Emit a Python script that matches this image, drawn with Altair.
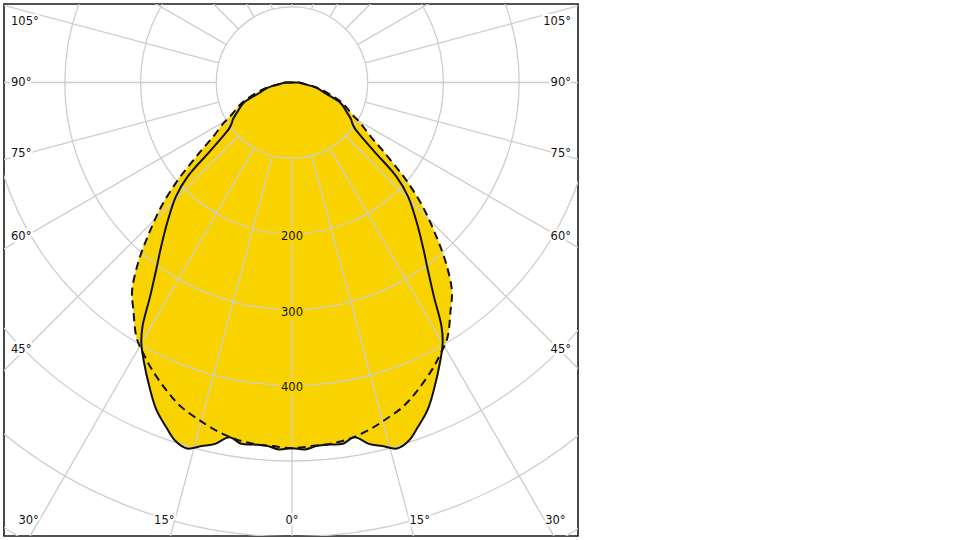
import math
import altair as alt
import pandas as pd

# ---- data (cd per angle, half plane, mirrored) ----
solid_angles = [0, 2, 4, 6, 8, 10, 12, 14, 16, 18, 20, 22.5, 25, 28, 30, 31.5, 33.5, 36, 38.5,
                42, 45.5, 48, 50, 52.5, 54, 56, 58, 62.5, 67, 72, 77.5, 83, 90, 100, 180]
solid_cd = [483, 485, 481, 481, 482, 476, 488, 495, 503, 498, 485, 468, 445, 417, 398, 378, 340, 305, 278,
            245, 215, 185, 142, 112, 102, 96, 92, 80, 70, 46, 34, 16, 8, 0, 0]
dashed_angles = [0, 3, 6, 9, 12.5, 15.5, 18.8, 22, 26, 28.6, 31.3, 34.8, 37.5, 40.5, 43.2, 46.5,
                 49.5, 51.3, 53.3, 55.4, 59.5, 62, 66.5, 70, 76, 80, 85, 90, 100, 180]
dashed_cd = [483, 481, 480, 477, 470, 462, 453, 440, 422, 409, 395, 367, 347, 313, 278, 238,
             198, 172, 148, 127, 104, 90, 76, 63, 41, 28, 14, 8, 0, 0]

ring_values = [100, 200, 300, 400, 500, 600, 700]
spoke_angles = list(range(0, 360, 15))
value_labels = [200, 300, 400]
side_label_angles = [45, 60, 75, 90, 105]
bottom_label_angles = [0, 15, 30]

# ---- layout constants (pixels) ----
W, H = 574, 532
PX = 0.757            # pixels per cd
CX, CY = 288, 78.5    # pole position inside the view
YELLOW = "#F9D300"
GRID = "#cdcdcd"
FONT = "DejaVu Sans"

xscale = alt.Scale(domain=[-CX / PX, (W - CX) / PX], nice=False, zero=False)
yscale = alt.Scale(domain=[-(H - CY) / PX, CY / PX], nice=False, zero=False)


def curve_frame(angles, values):
    g = [-a for a in reversed(angles) if a > 0] + list(angles)
    v = [c for a, c in zip(reversed(angles), reversed(values)) if a > 0] + list(values)
    return pd.DataFrame({"g": g, "cd": v, "i": range(len(g))})


solid_df = curve_frame(solid_angles, solid_cd)
dashed_df = curve_frame(dashed_angles, dashed_cd)


def polar(chart):
    return chart.transform_calculate(
        px="datum.cd*sin(datum.g*PI/180)",
        py="-datum.cd*cos(datum.g*PI/180)",
    )


def enc_xy(ch):
    return ch.encode(
        x=alt.X("px:Q", scale=xscale, axis=None),
        y=alt.Y("py:Q", scale=yscale, axis=None),
        order=alt.Order("i:Q"),
    )


INTERP = "catmull-rom"
fill_d = enc_xy(polar(alt.Chart(dashed_df)).mark_line(fill=YELLOW, stroke=YELLOW, strokeWidth=0.5,
                                                      interpolate=INTERP))
fill_s = enc_xy(polar(alt.Chart(solid_df)).mark_line(fill=YELLOW, stroke=YELLOW, strokeWidth=0.5,
                                                     interpolate=INTERP))

rings = alt.Chart(pd.DataFrame({"r": ring_values})).mark_arc(
    theta=0, theta2=2 * math.pi, fillOpacity=0, stroke=GRID, strokeWidth=1.3, clip=True
).encode(
    x=alt.X(datum=0, type="quantitative", scale=xscale, axis=None),
    y=alt.Y(datum=0, type="quantitative", scale=yscale, axis=None),
    radius=alt.Radius("r:Q", stack=False,
                      scale=alt.Scale(type="linear", domain=[0, 700], range=[0, 700 * PX])),
)

spokes = alt.Chart(pd.DataFrame({"g": spoke_angles})).transform_calculate(
    x1="100*sin(datum.g*PI/180)", y1="-100*cos(datum.g*PI/180)",
    x2="900*sin(datum.g*PI/180)", y2="-900*cos(datum.g*PI/180)",
).mark_rule(stroke=GRID, strokeWidth=1.3, clip=True).encode(
    x=alt.X("x1:Q", scale=xscale, axis=None),
    y=alt.Y("y1:Q", scale=yscale, axis=None),
    x2="x2:Q", y2="y2:Q",
)

line_d = enc_xy(polar(alt.Chart(dashed_df)).mark_line(color="#111111", strokeWidth=2, strokeDash=[8, 5],
                                                      interpolate=INTERP))
line_s = enc_xy(polar(alt.Chart(solid_df)).mark_line(color="#111111", strokeWidth=2, interpolate=INTERP))


def text_pair(chart, halo, **kw):
    h = chart.mark_text(font=FONT, fontSize=11.5, baseline="middle", stroke=halo, strokeWidth=5,
                        strokeJoin="round", fill=halo, **kw)
    t = chart.mark_text(font=FONT, fontSize=11.5, baseline="middle", color="#111111", **kw)
    return [h, t]


vals = alt.Chart(pd.DataFrame({"v": value_labels})).transform_calculate(
    lx="0", ly="-datum.v", txt="datum.v + ''"
).encode(
    x=alt.X("lx:Q", scale=xscale, axis=None),
    y=alt.Y("ly:Q", scale=yscale, axis=None),
    text="txt:N",
)
val_layers = text_pair(vals, YELLOW, align="center", dy=3)

LR = 267 / PX
YTOP = (82.5 - 22) / PX


def side_chart(sign):
    xx = (11 - 292) / PX if sign < 0 else (571 - 292) / PX
    return alt.Chart(pd.DataFrame({"g": side_label_angles})).transform_calculate(
        lx=str(xx),
        ly=f"min(-{LR}*cos(datum.g*PI/180)/sin(datum.g*PI/180), {YTOP})",
        txt="datum.g + '°'",
    ).encode(
        x=alt.X("lx:Q", scale=xscale, axis=None),
        y=alt.Y("ly:Q", scale=yscale, axis=None),
        text="txt:N",
    )


YB = -(521 - 82.5) / PX


def bottom_chart(sign, angles):
    return alt.Chart(pd.DataFrame({"g": angles})).transform_calculate(
        lx=f"{sign}*{-YB}*tan(datum.g*PI/180)",
        ly=str(YB),
        txt="datum.g + '°'",
    ).encode(
        x=alt.X("lx:Q", scale=xscale, axis=None),
        y=alt.Y("ly:Q", scale=yscale, axis=None),
        text="txt:N",
    )


label_layers = (
    text_pair(side_chart(-1), "white", align="left")
    + text_pair(side_chart(1), "white", align="right")
    + text_pair(bottom_chart(-1, [a for a in bottom_label_angles if a > 0]), "white", align="right")
    + text_pair(bottom_chart(1, [a for a in bottom_label_angles if a > 0]), "white", align="left")
    + text_pair(bottom_chart(1, [0]), "white", align="center")
)

chart = alt.layer(
    fill_d, fill_s, rings, spokes, line_d, line_s, *val_layers, *label_layers
).properties(
    width=W, height=H,
    padding={"left": 4, "top": 4, "right": 4, "bottom": 4},
    autosize="none",
    background="white",
).configure_view(stroke="#1a1a1a", strokeWidth=1.6)

chart.save("out.html", embed_options={"renderer": "svg", "actions": False})
